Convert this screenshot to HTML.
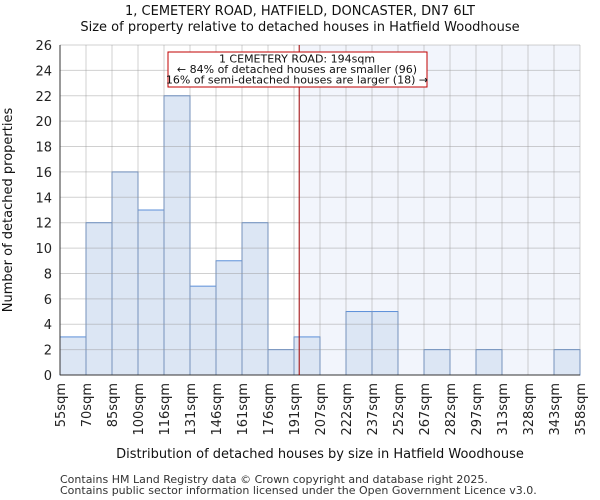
<!DOCTYPE html>
<html><head><meta charset="utf-8"><style>body{margin:0;background:#fff}svg{display:block;font-family:"DejaVu Sans","Liberation Sans",sans-serif}</style></head>
<body>
<svg id="chart" width="600" height="500"></svg>
<script>
const binLabels=["55sqm","70sqm","85sqm","100sqm","116sqm","131sqm","146sqm","161sqm","176sqm","191sqm","207sqm","222sqm","237sqm","252sqm","267sqm","282sqm","297sqm","313sqm","328sqm","343sqm","358sqm"];
const counts=[3,12,16,13,22,7,9,12,2,3,0,5,5,0,2,0,2,0,0,2];
const yTicks=[0,2,4,6,8,10,12,14,16,18,20,22,24,26];
const markerBin=9.2;
const L=60,R=580,T=45,B=375,yMax=26;
const n=counts.length;
const xs=i=>L+(R-L)*i/n;
const ys=v=>B-(B-T)*v/yMax;
const svg=document.getElementById('chart');
const NS='http://www.w3.org/2000/svg';
function mk(t,a,p){const e=document.createElementNS(NS,t);for(const k in a)e.setAttribute(k,a[k]);(p||svg).appendChild(e);return e;}
function tx(x,y,s,a){const e=mk('text',Object.assign({x,y},a||{}));e.textContent=s;return e;}
let e;
e=mk('rect',{x:xs(markerBin),y:T,width:R-xs(markerBin),height:B-T,fill:'#f2f5fc'});


counts.forEach((c,i)=>{if(c<=0)return;
 e=mk('rect',{x:xs(i),y:ys(c),width:xs(i+1)-xs(i),height:B-ys(c),fill:'#dce6f4',stroke:'#5b8fd9','stroke-width':1});
 
 
});
yTicks.forEach(v=>{mk('line',{x1:L,x2:R,y1:ys(v),y2:ys(v),stroke:'rgba(150,150,150,0.45)'});
 e=tx(L-8,ys(v)+5,String(v),{'text-anchor':'end','font-size':13,fill:'#222'});
 
 });
binLabels.forEach((s,i)=>{mk('line',{x1:xs(i),x2:xs(i),y1:T,y2:B,stroke:'rgba(150,150,150,0.45)'});
 e=tx(0,0,s,{transform:`translate(${xs(i)+5},${B+8}) rotate(-90)`,'text-anchor':'end','font-size':13,fill:'#222'});
 
 });
mk('line',{x1:L,x2:L,y1:T,y2:B,stroke:'#333'});
mk('line',{x1:L,x2:R,y1:B,y2:B,stroke:'#333'});
e=mk('line',{x1:xs(markerBin),x2:xs(markerBin),y1:T,y2:B,stroke:'#a00000','stroke-width':1});


e=mk('g',{});
mk('rect',{x:168,y:52,width:259,height:35,fill:'#fff',stroke:'#c00000'},e);
const an=["1 CEMETERY ROAD: 194sqm","← 84% of detached houses are smaller (96)","16% of semi-detached houses are larger (18) →"];
an.forEach((s,i)=>{const t=document.createElementNS(NS,'text');t.setAttribute('x',297);t.setAttribute('y',62.5+i*10.5);t.setAttribute('text-anchor','middle');t.setAttribute('font-size',11);t.setAttribute('fill','#111');t.textContent=s;e.appendChild(t);});
e=tx(300,15,"1, CEMETERY ROAD, HATFIELD, DONCASTER, DN7 6LT",{'text-anchor':'middle','font-size':13,fill:'#111'});

e=tx(300,31,"Size of property relative to detached houses in Hatfield Woodhouse",{'text-anchor':'middle','font-size':13,fill:'#111'});

e=tx(0,0,"Number of detached properties",{transform:'translate(12,210) rotate(-90)','text-anchor':'middle','font-size':13,fill:'#111'});

e=tx(320,458,"Distribution of detached houses by size in Hatfield Woodhouse",{'text-anchor':'middle','font-size':13,fill:'#111'});

e=tx(60,483,"Contains HM Land Registry data © Crown copyright and database right 2025.",{'font-size':11,fill:'#333'});

e=tx(60,494,"Contains public sector information licensed under the Open Government Licence v3.0.",{'font-size':11,fill:'#333'});

</script>
</body></html>
